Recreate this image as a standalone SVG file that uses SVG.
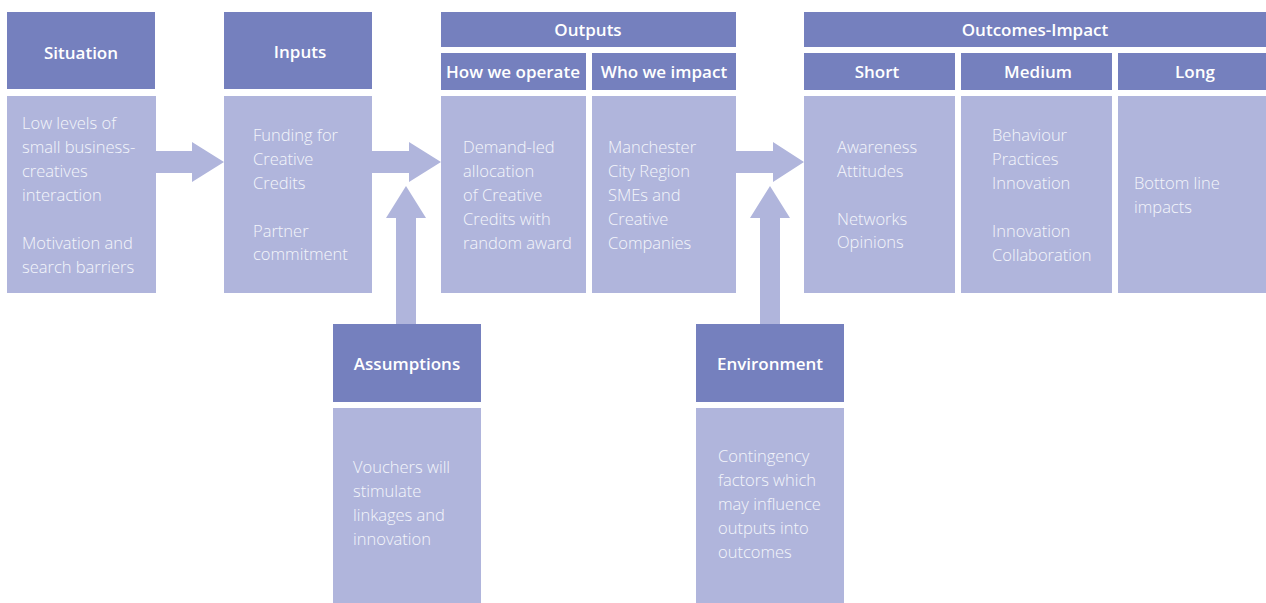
<svg xmlns="http://www.w3.org/2000/svg" width="1266" height="603" viewBox="0 0 1266 603">
  <style>
    .hd { fill: #7580BE; }
    .bd { fill: #B0B5DC; }
    .arrow { fill: #B0B5DC; }
    .ht { font-family: "Open Sans", "Noto Sans", sans-serif; font-weight: 600; font-size: 17px; fill: #FFFFFF; text-anchor: middle; }
    .bt { font-family: "Open Sans", "Noto Sans", sans-serif; font-weight: 300; font-size: 16.5px; fill: #F4F5FB; }
  </style>
  <rect width="1266" height="603" fill="#FFFFFF"/>

  <!-- connectors: block arrows -->
  <g id="connectors">
    <polygon class="arrow" points="155,151 192,151 192,142 224,162 192,182 192,173 155,173"/>
    <polygon class="arrow" points="372,151 409,151 409,142 441,162 409,182 409,173 372,173"/>
    <polygon class="arrow" points="736,151 773,151 773,142 804,162 773,182 773,173 736,173"/>
    <polygon class="arrow" points="396,324 396,218 386,218 406,186 426,218 416,218 416,324"/>
    <polygon class="arrow" points="760,324 760,218 750,218 770,186 790,218 780,218 780,324"/>
  </g>

  <g id="situation">
    <rect class="hd" x="7" y="12" width="148" height="77"/>
    <text class="ht" x="81" y="59">Situation</text>
    <rect class="bd" x="7" y="96" width="149" height="197"/>
    <text class="bt">
      <tspan x="22" y="129">Low levels of</tspan>
      <tspan x="22" y="153">small business-</tspan>
      <tspan x="22" y="177">creatives</tspan>
      <tspan x="22" y="201">interaction</tspan>
      <tspan x="22" y="249">Motivation and</tspan>
      <tspan x="22" y="273">search barriers</tspan>
    </text>
  </g>

  <g id="inputs">
    <rect class="hd" x="224" y="12" width="148" height="77"/>
    <text class="ht" x="300" y="58">Inputs</text>
    <rect class="bd" x="224" y="96" width="148" height="197"/>
    <text class="bt">
      <tspan x="253" y="141">Funding for</tspan>
      <tspan x="253" y="165">Creative</tspan>
      <tspan x="253" y="189">Credits</tspan>
      <tspan x="253" y="237">Partner</tspan>
      <tspan x="253" y="260">commitment</tspan>
    </text>
  </g>

  <g id="outputs">
    <rect class="hd" x="441" y="12" width="295" height="35"/>
    <text class="ht" x="588" y="36">Outputs</text>
  </g>

  <g id="how-we-operate">
    <rect class="hd" x="441" y="53" width="145" height="37"/>
    <text class="ht" x="513" y="78">How we operate</text>
    <rect class="bd" x="441" y="96" width="145" height="197"/>
    <text class="bt">
      <tspan x="463" y="153">Demand-led</tspan>
      <tspan x="463" y="177">allocation</tspan>
      <tspan x="463" y="201">of Creative</tspan>
      <tspan x="463" y="225">Credits with</tspan>
      <tspan x="463" y="249">random award</tspan>
    </text>
  </g>

  <g id="who-we-impact">
    <rect class="hd" x="592" y="53" width="144" height="37"/>
    <text class="ht" x="664" y="78">Who we impact</text>
    <rect class="bd" x="592" y="96" width="144" height="197"/>
    <text class="bt">
      <tspan x="608" y="153">Manchester</tspan>
      <tspan x="608" y="177">City Region</tspan>
      <tspan x="608" y="201">SMEs and</tspan>
      <tspan x="608" y="225">Creative</tspan>
      <tspan x="608" y="249">Companies</tspan>
    </text>
  </g>

  <g id="outcomes-impact">
    <rect class="hd" x="804" y="12" width="462" height="35"/>
    <text class="ht" x="1035" y="36">Outcomes-Impact</text>
  </g>

  <g id="short">
    <rect class="hd" x="804" y="53" width="151" height="37"/>
    <text class="ht" x="877" y="78">Short</text>
    <rect class="bd" x="804" y="96" width="151" height="197"/>
    <text class="bt">
      <tspan x="837" y="153">Awareness</tspan>
      <tspan x="837" y="177">Attitudes</tspan>
      <tspan x="837" y="225">Networks</tspan>
      <tspan x="837" y="248">Opinions</tspan>
    </text>
  </g>

  <g id="medium">
    <rect class="hd" x="961" y="53" width="151" height="37"/>
    <text class="ht" x="1038" y="78">Medium</text>
    <rect class="bd" x="961" y="96" width="151" height="197"/>
    <text class="bt">
      <tspan x="992" y="141">Behaviour</tspan>
      <tspan x="992" y="165">Practices</tspan>
      <tspan x="992" y="189">Innovation</tspan>
      <tspan x="992" y="237">Innovation</tspan>
      <tspan x="992" y="261">Collaboration</tspan>
    </text>
  </g>

  <g id="long">
    <rect class="hd" x="1118" y="53" width="148" height="37"/>
    <text class="ht" x="1195" y="78">Long</text>
    <rect class="bd" x="1118" y="96" width="148" height="197"/>
    <text class="bt">
      <tspan x="1134" y="189">Bottom line</tspan>
      <tspan x="1134" y="213">impacts</tspan>
    </text>
  </g>

  <g id="assumptions">
    <rect class="hd" x="333" y="324" width="148" height="78"/>
    <text class="ht" x="407" y="370">Assumptions</text>
    <rect class="bd" x="333" y="408" width="148" height="195"/>
    <text class="bt">
      <tspan x="353" y="473">Vouchers will</tspan>
      <tspan x="353" y="497">stimulate</tspan>
      <tspan x="353" y="521">linkages and</tspan>
      <tspan x="353" y="545">innovation</tspan>
    </text>
  </g>

  <g id="environment">
    <rect class="hd" x="696" y="324" width="148" height="78"/>
    <text class="ht" x="770" y="370">Environment</text>
    <rect class="bd" x="696" y="408" width="148" height="195"/>
    <text class="bt">
      <tspan x="718" y="462">Contingency</tspan>
      <tspan x="718" y="486">factors which</tspan>
      <tspan x="718" y="510">may influence</tspan>
      <tspan x="718" y="534">outputs into</tspan>
      <tspan x="718" y="558">outcomes</tspan>
    </text>
  </g>
</svg>
